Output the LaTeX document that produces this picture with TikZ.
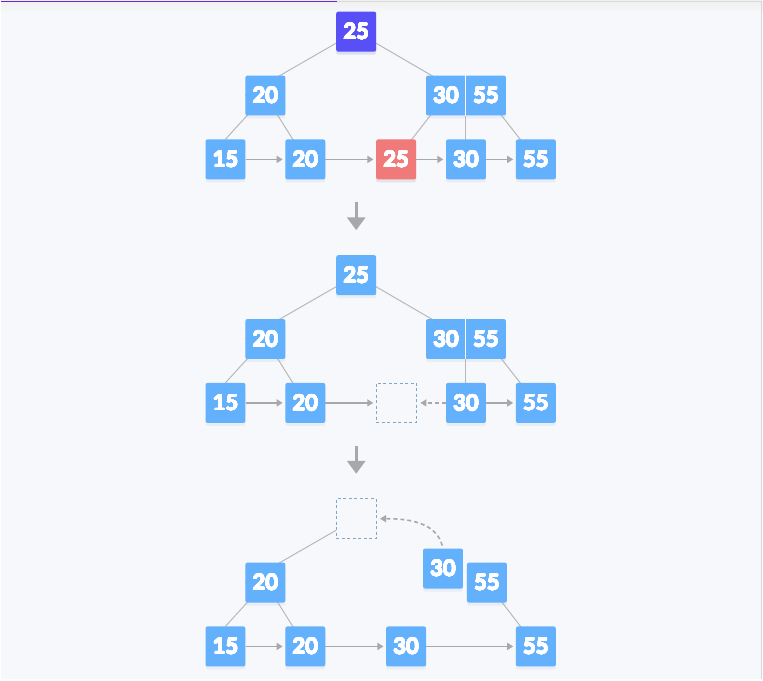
\documentclass[tikz,border=0pt]{standalone}
\usepackage{fontspec}
\setmainfont{Lato}
\usepackage{contour}
\contourlength{0.4pt}
\contournumber{24}
\usetikzlibrary{arrows.meta,shadows}
\definecolor{bgc}{HTML}{F7F8FB}
\definecolor{nblue}{RGB}{99,177,253}
\definecolor{npurple}{RGB}{88,80,246}
\definecolor{nred}{RGB}{240,122,122}
\definecolor{edgec}{RGB}{184,184,186}
\definecolor{arrc}{RGB}{168,168,170}
\definecolor{dashc}{RGB}{130,165,200}
\definecolor{topline}{RGB}{100,40,220}
\newcommand{\bnum}[1]{\contour{white}{#1}}
\pgfdeclarelayer{bgl}
\pgfdeclarelayer{edges}
\pgfsetlayers{bgl,edges,main}
\begin{document}
\begin{tikzpicture}[x=1pt,y=-1pt,
  box/.style={rectangle, minimum width=40pt, minimum height=40pt, inner sep=0pt,
    rounded corners=2pt, fill=nblue, text=white,
    font=\fontsize{22}{22}\selectfont\bfseries,
    drop shadow={shadow xshift=0pt, shadow yshift=-3pt, opacity=0.10, fill=nblue!60!gray}},
  txt/.style={inner sep=0pt, text=white, font=\fontsize{22}{22}\selectfont\bfseries},
  emptybox/.style={rectangle, minimum width=40pt, minimum height=40pt, inner sep=0pt,
    fill=bgc, draw=dashc, line width=0.8pt, dash pattern=on 3pt off 2.5pt},
  edge/.style={draw=edgec, line width=1pt},
  larrow/.style={draw=arrc, line width=1.6pt, -{Triangle[width=7pt,length=6pt]},
    shorten >=2.5pt},
  darrow/.style={draw=arrc, line width=1.6pt, dash pattern=on 4pt off 3pt,
    -{Triangle[width=7pt,length=6pt]}},
  bigarrow/.style={draw=arrc, line width=3.4pt, -{Triangle[width=18pt,length=13pt]}}
]
% background and frame
\begin{pgfonlayer}{bgl}
\fill[bgc] (0,0) rectangle (763,680);
\fill[top color=black!6, bottom color=bgc] (0,0) rectangle (763,12);
\draw[black!14, line width=1.2pt] (0,0.6) -- (763,0.6);
\draw[topline, line width=1.8pt] (0,0.9) -- (337,0.9);
\draw[black!16, line width=1.4pt] (762.3,0) -- (762.3,680);
\end{pgfonlayer}

% ===== top tree =====
\node[box, fill=npurple, drop shadow={shadow xshift=0pt, shadow yshift=-3pt, opacity=0.10, fill=npurple!60!gray}] (aroot) at (356,31) {\bnum{25}};
\node[box] (a20) at (265,95) {\bnum{20}};
\node[box, minimum width=80pt] (apair) at (466,95) {};
\node[txt] (apa) at (446,95) {\bnum{30}};
\node[txt] (apb) at (486,95) {\bnum{55}};
\draw[white, line width=1pt] (apair.north) -- (apair.south);
\node[box] (a15l) at (225,159) {\bnum{15}};
\node[box] (a20l) at (305,159) {\bnum{20}};
\node[box, fill=nred, drop shadow={shadow xshift=0pt, shadow yshift=-3pt, opacity=0.10, fill=nred!60!gray}] (a25l) at (396,159) {\bnum{25}};
\node[box] (a30l) at (466,159) {\bnum{30}};
\node[box] (a55l) at (536,159) {\bnum{55}};
\begin{pgfonlayer}{edges}
\draw[edge] (aroot.center) -- (a20.west);
\draw[edge] (aroot.center) -- (apair.center);
\draw[edge] (a20.center) -- (a15l.north);
\draw[edge] (a20.center) -- (a20l.center);
\draw[edge] (apa.center) -- (a25l.center);
\draw[edge] (apair.center) -- (a30l.center);
\draw[edge] (apb.center) -- (a55l.center);
\end{pgfonlayer}
\draw[larrow] (a15l.east) -- (a20l.west);
\draw[larrow] (a20l.east) -- (a25l.west);
\draw[larrow] (a25l.east) -- (a30l.west);
\draw[larrow] (a30l.east) -- (a55l.west);

\coordinate (d1s) at (356,202);
\coordinate (d1e) at (356,230);
\draw[bigarrow] (d1s) -- (d1e);

% ===== middle tree =====
\node[box] (broot) at (356,275) {\bnum{25}};
\node[box] (b20) at (265,339) {\bnum{20}};
\node[box, minimum width=80pt] (bpair) at (466,339) {};
\node[txt] (bpa) at (446,339) {\bnum{30}};
\node[txt] (bpb) at (486,339) {\bnum{55}};
\draw[white, line width=1pt] (bpair.north) -- (bpair.south);
\node[box] (b15l) at (225,403) {\bnum{15}};
\node[box] (b20l) at (305,403) {\bnum{20}};
\node[emptybox] (bempty) at (396,403) {};
\node[box] (b30l) at (466,403) {\bnum{30}};
\node[box] (b55l) at (536,403) {\bnum{55}};
\begin{pgfonlayer}{edges}
\draw[edge] (broot.center) -- (b20.west);
\draw[edge] (broot.center) -- (bpair.center);
\draw[edge] (b20.center) -- (b15l.north);
\draw[edge] (b20.center) -- (b20l.center);
\draw[edge] (bpair.center) -- (b30l.center);
\draw[edge] (bpb.center) -- (b55l.center);
\end{pgfonlayer}
\draw[larrow] (b15l.east) -- (b20l.west);
\draw[larrow] (b20l.east) -- (bempty.west);
\draw[darrow, shorten >=4pt] (b30l.west) -- (bempty.east);
\draw[larrow] (b30l.east) -- (b55l.west);

\coordinate (d2s) at (356,446);
\coordinate (d2e) at (356,474);
\draw[bigarrow] (d2s) -- (d2e);

% ===== bottom tree =====
\node[emptybox] (cempty) at (356,519) {};
\node[box] (c20) at (265,583) {\bnum{20}};
\node[box] (c30f) at (443,569) {\bnum{30}};
\node[box] (c55f) at (487,583) {\bnum{55}};
\node[box] (c15l) at (225,647) {\bnum{15}};
\node[box] (c20l) at (305,647) {\bnum{20}};
\node[box] (c30l) at (406,647) {\bnum{30}};
\node[box] (c55l) at (536,647) {\bnum{55}};
\begin{pgfonlayer}{edges}
\draw[edge] (cempty.center) -- (c20.west);
\draw[edge] (c20.center) -- (c15l.north);
\draw[edge] (c20.center) -- (c20l.center);
\draw[edge] (c55f.center) -- (c55l.center);
\end{pgfonlayer}
\draw[darrow, shorten <=3pt, shorten >=3.5pt] (c30f.north) to[out=105,in=0] (cempty.east);
\draw[larrow] (c15l.east) -- (c20l.west);
\draw[larrow] (c20l.east) -- (c30l.west);
\draw[larrow] (c30l.east) -- (c55l.west);

\useasboundingbox (0,0) rectangle (763,680);
\end{tikzpicture}
\end{document}
